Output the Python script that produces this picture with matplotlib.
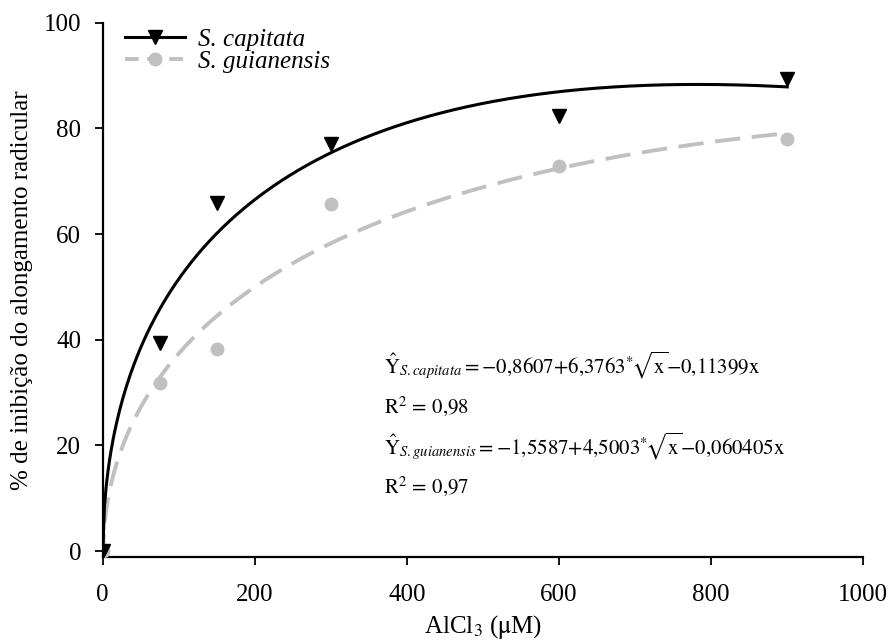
import numpy as np
import matplotlib
matplotlib.use("Agg")
import matplotlib.pyplot as plt
from matplotlib.lines import Line2D

plt.rcParams['font.family'] = ['Liberation Serif', 'DejaVu Serif']
plt.rcParams['mathtext.fontset'] = 'stix'

# AlCl3 doses (uM) and observed inhibition (%)
doses = [0, 75, 150, 300, 600, 900]
capitata = [0, 39.4, 65.8, 77.0, 82.3, 89.3]
guianensis = [0, 31.9, 38.3, 65.7, 72.8, 77.9]

# fitted coefficients: Y = b0 + b1*sqrt(x) + b2*x
coef_capitata = [-0.8607, 6.3763, -0.11399]
coef_guianensis = [-1.5587, 4.5003, -0.060405]

black = '#000000'
gray = '#c0c0c0'


def fitted(coef, x):
    return coef[0] + coef[1] * np.sqrt(x) + coef[2] * x


fig = plt.figure(figsize=(8.9, 6.43), dpi=100)
ax = fig.add_axes([0.1154, 0.1337, 0.8546, 0.8311])

xs = np.linspace(0, 900, 400)
ax.plot(xs, fitted(coef_capitata, xs), color=black, lw=2.2, zorder=3)
ax.plot(xs, fitted(coef_guianensis, xs), color=gray, lw=2.8,
        dashes=(6.5, 3), zorder=2)
ax.plot(doses, capitata, linestyle='none', marker='v', ms=10,
        color=black, zorder=4)
ax.plot(doses, guianensis, linestyle='none', marker='o', ms=9,
        color=gray, zorder=3)

ax.set_xlim(0, 1000)
ax.set_ylim(-1.1, 100)
ax.set_xticks(range(0, 1001, 200))
ax.set_yticks(range(0, 101, 20))
ax.spines['top'].set_visible(False)
ax.spines['right'].set_visible(False)
ax.spines['left'].set_bounds(-1.1, 100)
ax.spines['left'].set_linewidth(1.6)
ax.spines['bottom'].set_linewidth(1.6)
ax.tick_params(direction='out', length=5.5, width=1.3, labelsize=18)
ax.tick_params(axis='x', pad=14)
ax.tick_params(axis='y', pad=10)

ax.set_xlabel(r'AlCl$_3$ ($\mathrm{\mu}$M)', fontsize=18, labelpad=5)
ax.set_ylabel('% de inibição do alongamento radicular', fontsize=18,
              labelpad=8)

handles = [
    Line2D([], [], color=black, lw=2.2, marker='v', ms=10),
    Line2D([], [], color=gray, lw=2.8, dashes=(3.5, 2.2), marker='o', ms=9),
]
leg = ax.legend(handles, ['S. capitata', 'S. guianensis'],
                loc='upper left', bbox_to_anchor=(0.0, 1.032),
                frameon=False, handlelength=2.4, handletextpad=0.5,
                labelspacing=0.0, prop={'style': 'italic', 'size': 18})

eq_lines = [
    (35.2, r'$\hat{\mathrm{Y}}_{\mathit{S.capitata}}{=}{-}0{,}8607{+}6{,}3763^{*}\!\sqrt{\mathrm{x}}{-}0{,}11399\mathrm{x}$'),
    (27.4, r'$\mathrm{R}^{2}\,{=}\,0{,}98$'),
    (19.9, r'$\hat{\mathrm{Y}}_{\mathit{S.guianensis}}{=}{-}1{,}5587{+}4{,}5003^{*}\!\sqrt{\mathrm{x}}{-}0{,}060405\mathrm{x}$'),
    (12.2, r'$\mathrm{R}^{2}\,{=}\,0{,}97$'),
]
for y, txt in eq_lines:
    ax.text(370, y, txt, fontsize=15, ha='left', va='center')

fig.savefig('out.png', dpi=100)
